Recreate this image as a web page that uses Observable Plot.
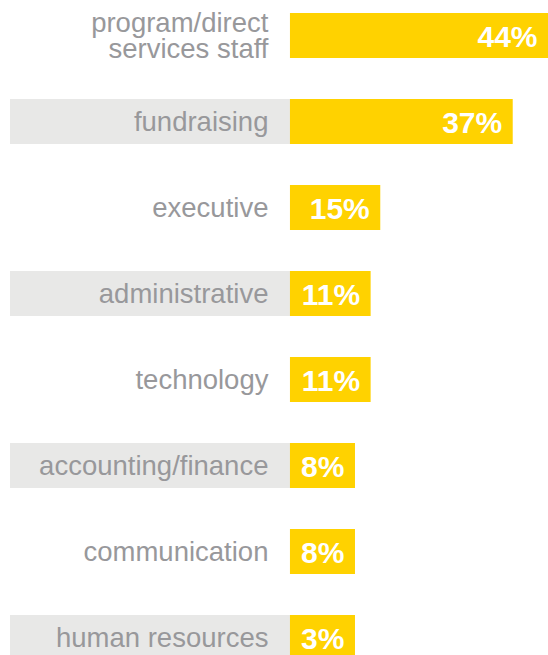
<!DOCTYPE html>
<html>
<head>
<meta charset="utf-8">
<script src="https://cdn.jsdelivr.net/npm/d3@7"></script>
<script src="https://cdn.jsdelivr.net/npm/@observablehq/plot@0.6"></script>
<style>
  html, body { margin: 0; padding: 0; background: #fff; overflow: hidden; }
  #chart svg { display: block; }
</style>
</head>
<body>
<div id="chart"></div>
<script>
const categories = [
  "program/direct\nservices staff",
  "fundraising",
  "executive",
  "administrative",
  "technology",
  "accounting/finance",
  "communication",
  "human resources"
];
const values = [44, 37, 15, 11, 11, 8, 8, 3];
const shadedRows = [false, true, false, true, false, true, false, true];

const xDomain = [-46.5, 42.86];

const data = categories.map((c, i) => {
  const label = values[i] + "%";
  // bars are padded so that the value label always fits inside
  const minLen = 5.6 + 2.6 * label.length;
  return {
    category: c,
    value: values[i],
    label,
    barEnd: Math.max(values[i], minLen),
    shaded: shadedRows[i]
  };
});

const chart = Plot.plot({
  width: 548,
  height: 655,
  marginLeft: 10,
  marginRight: 0,
  marginTop: 13,
  marginBottom: -5,
  style: { background: "#fff", fontFamily: "'Liberation Sans', Arial, sans-serif" },
  x: { domain: xDomain, clamp: true, axis: null },
  y: { domain: categories, paddingInner: 0.477, paddingOuter: 0, axis: null },
  marks: [
    Plot.barX(data.filter(d => d.shaded), {
      x1: xDomain[0], x2: 0, y: "category", fill: "#e8e8e7"
    }),
    Plot.barX(data, {
      x1: 0, x2: "barEnd", y: "category", fill: "#ffd200"
    }),
    Plot.text(data, {
      x: 0, y: "category", text: "category", textAnchor: "end", dx: -22, dy: 1,
      fill: "#98989b", fontSize: 27.5, lineHeight: 0.95
    }),
    Plot.text(data, {
      x: "barEnd", y: "category", text: "label", textAnchor: "end", dx: -11, dy: 1,
      fill: "#fff", fontSize: 30, fontWeight: "bold"
    })
  ]
});
document.getElementById("chart").appendChild(chart);
</script>
</body>
</html>
